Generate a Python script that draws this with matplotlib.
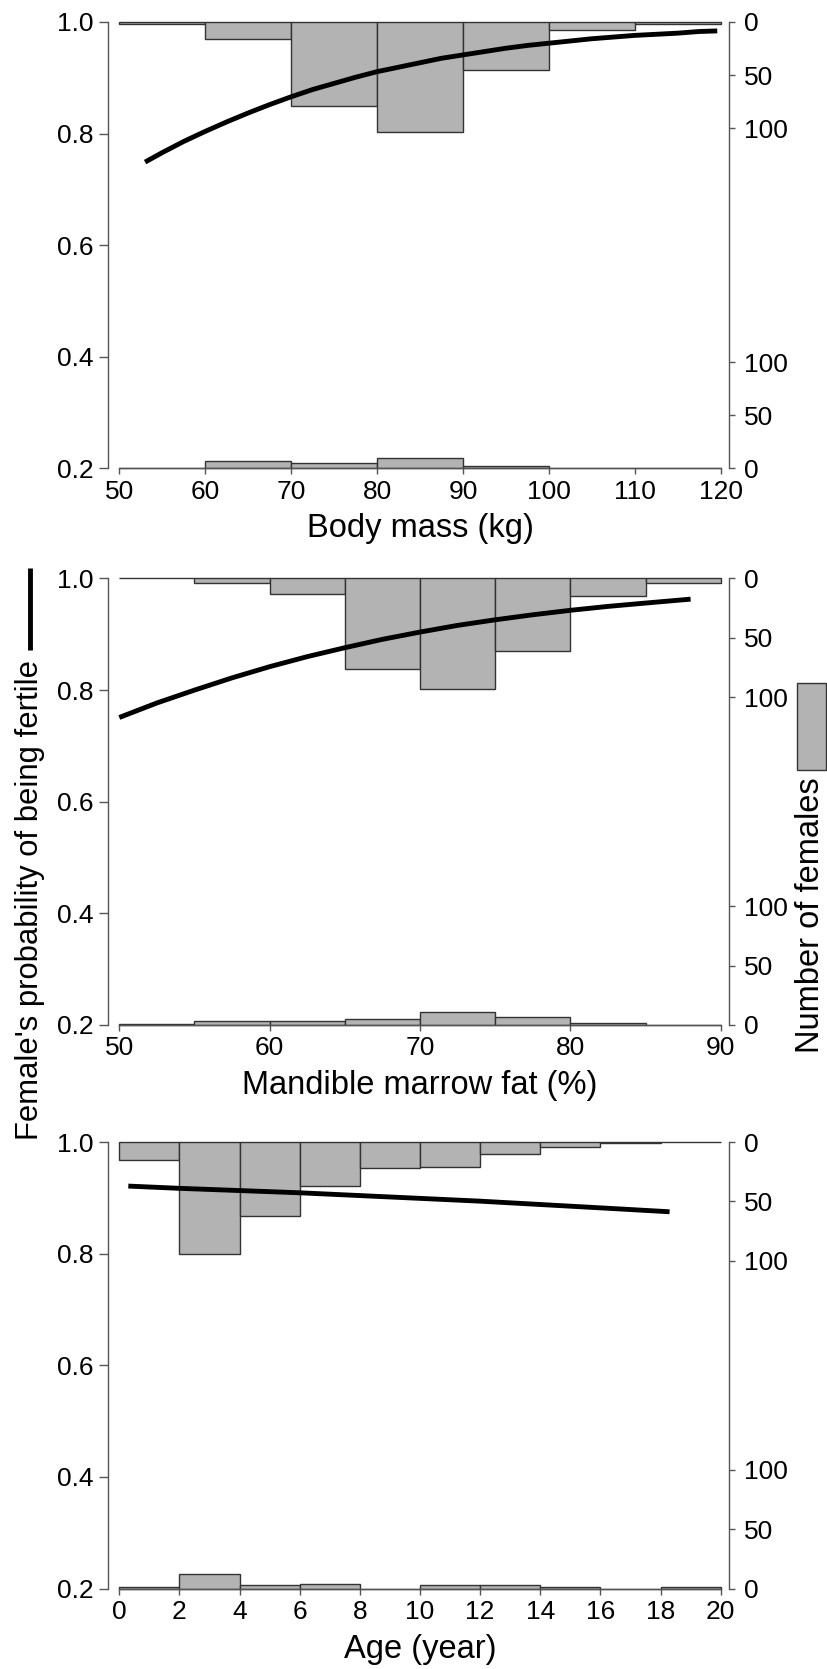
import matplotlib
matplotlib.use("Agg")
import matplotlib.pyplot as plt
import numpy as np
from matplotlib.lines import Line2D
from matplotlib.patches import Rectangle

plt.rcParams['font.family'] = ['Liberation Sans', 'DejaVu Sans']

# ---------------- data ----------------
# Panel 1: body mass
mass_edges = [50, 60, 70, 80, 90, 100, 110, 120]
mass_fertile = [2, 16, 79, 104, 45, 8, 2]
mass_nonfertile = [0, 7, 5, 10, 2, 0, 0]
mass_curve_x = [53, 55, 57.5, 60, 62.5, 65, 67.5, 70, 72.5, 75, 77.5, 80, 82.5, 85,
                87.5, 90, 92.5, 95, 97.5, 100, 102.5, 105, 107.5, 110, 112.5, 115,
                117.5, 119.6]
mass_curve_p = [0.749, 0.766, 0.786, 0.804, 0.821, 0.837, 0.852, 0.866, 0.879, 0.890,
                0.901, 0.911, 0.919, 0.927, 0.935, 0.941, 0.947, 0.953, 0.958, 0.962,
                0.966, 0.970, 0.973, 0.976, 0.978, 0.980, 0.983, 0.984]
mass_ticks = [50, 60, 70, 80, 90, 100, 110, 120]

# Panel 2: mandible marrow fat
fat_edges = [50, 55, 60, 65, 70, 75, 80, 85, 90]
fat_fertile = [0, 4, 13, 76, 93, 61, 15, 4]
fat_nonfertile = [1, 3, 3, 5, 11, 7, 2, 0]
fat_curve_x = [50, 52.5, 55, 57.5, 60, 62.5, 65, 67.5, 70, 72.5, 75, 77.5, 80, 82.5, 85, 88]
fat_curve_p = [0.751, 0.777, 0.800, 0.822, 0.842, 0.860, 0.876, 0.891, 0.904, 0.916,
               0.926, 0.935, 0.943, 0.950, 0.956, 0.963]
fat_ticks = [50, 60, 70, 80, 90]

# Panel 3: age
age_edges = [0, 2, 4, 6, 8, 10, 12, 14, 16, 18, 20]
age_fertile = [15, 94, 62, 37, 22, 21, 10, 4, 1, 0]
age_nonfertile = [1, 12, 3, 4, 0, 3, 3, 1, 0, 1]
age_curve_x = [0.3, 2, 4, 6, 8, 10, 12, 14, 16, 18.3]
age_curve_p = [0.921, 0.917, 0.913, 0.909, 0.904, 0.899, 0.894, 0.888, 0.882, 0.875]
age_ticks = [0, 2, 4, 6, 8, 10, 12, 14, 16, 18, 20]

prob_ticks = [0.2, 0.4, 0.6, 0.8, 1.0]
count_ticks = [0, 50, 100]

x_labels = ["Body mass (kg)", "Mandible marrow fat (%)", "Age (year)"]
ylabel_left = "Female's probability of being fertile"
ylabel_right = "Number of females"

# ---------------- layout ----------------
W, H = 828, 1669
fig = plt.figure(figsize=(W / 100, H / 100), dpi=100)

# probability units per female on each panel's histogram scale
K_PANELS = [0.0019, 0.00213, 0.00213]
FILL = '#b3b3b3'
EDGE = '#333333'
SPINE = '#555555'
TICK_FS = 19
LAB_FS = 23.5
YLAB_FS = 22.3

LEFT_SPINE, RIGHT_SPINE = 108.3, 729.3
DATA_X0, DATA_X1 = 119.3, 720.7
PANEL_TOPS = [22.0, 578.5, 1142.0]
PANEL_H = 446.5


def panel(top, K, edges, fert, nonfert, cx, cp, ticks, xlabel):
    bottom = top + PANEL_H
    ax = fig.add_axes([LEFT_SPINE / W, 1 - bottom / H,
                       (RIGHT_SPINE - LEFT_SPINE) / W, PANEL_H / H])
    xmin, xmax = edges[0], edges[-1]
    scale = (DATA_X1 - DATA_X0) / (xmax - xmin)
    ax.set_xlim(xmin - (DATA_X0 - LEFT_SPINE) / scale,
                xmax + (RIGHT_SPINE - DATA_X1) / scale)
    ax.set_ylim(0.2, 1.0)

    widths = np.diff(edges)
    lefts = np.array(edges[:-1])
    ax.bar(lefts, -np.array(fert) * K, width=widths, bottom=1.0, align='edge',
           color=FILL, edgecolor=EDGE, linewidth=1.0, clip_on=False, zorder=2)
    ax.bar(lefts, np.array(nonfert) * K, width=widths, bottom=0.2, align='edge',
           color=FILL, edgecolor=EDGE, linewidth=1.0, clip_on=False, zorder=2)
    ax.plot(cx, cp, color='black', lw=3.5, solid_capstyle='butt',
            solid_joinstyle='round', zorder=5)

    for s in ['top', 'right']:
        ax.spines[s].set_visible(False)
    ax.spines['left'].set_bounds(0.2, 1.0)
    ax.spines['bottom'].set_bounds(xmin, xmax)
    for s in ['left', 'bottom']:
        ax.spines[s].set_color(SPINE)
        ax.spines[s].set_linewidth(1.0)

    ax.set_yticks(prob_ticks)
    ax.set_yticklabels([f"{v:.1f}" for v in prob_ticks])
    ax.set_xticks(ticks)
    ax.set_xticklabels([str(t) for t in ticks])
    ax.tick_params(axis='y', length=6.5, width=1.0, color=SPINE, pad=4.3,
                   labelsize=TICK_FS)
    ax.tick_params(axis='x', length=4.6, width=1.0, color=SPINE, pad=3.5,
                   labelsize=TICK_FS)

    ax2 = ax.twinx()
    ax2.set_ylim(0.2, 1.0)
    for s in ['top', 'left', 'bottom']:
        ax2.spines[s].set_visible(False)
    ax2.spines['right'].set_bounds(0.2, 1.0)
    ax2.spines['right'].set_color(SPINE)
    ax2.spines['right'].set_linewidth(1.0)
    rpos = [1.0 - c * K for c in count_ticks] + [0.2 + c * K for c in count_ticks]
    rlab = [str(c) for c in count_ticks] + [str(c) for c in count_ticks]
    ax2.set_yticks(rpos)
    ax2.set_yticklabels(rlab)
    ax2.tick_params(axis='y', length=4.5, width=1.0, color=SPINE, pad=6,
                    labelsize=TICK_FS)

    fig.text(((DATA_X0 + DATA_X1) / 2) / W, 1 - (bottom + 69) / H, xlabel,
             ha='center', va='baseline', fontsize=LAB_FS)
    return ax


panel(PANEL_TOPS[0], K_PANELS[0], mass_edges, mass_fertile, mass_nonfertile,
      mass_curve_x, mass_curve_p, mass_ticks, x_labels[0])
panel(PANEL_TOPS[1], K_PANELS[1], fat_edges, fat_fertile, fat_nonfertile,
      fat_curve_x, fat_curve_p, fat_ticks, x_labels[1])
panel(PANEL_TOPS[2], K_PANELS[2], age_edges, age_fertile, age_nonfertile,
      age_curve_x, age_curve_p, age_ticks, x_labels[2])

# left y label with legend line
fig.text(30 / W, 1 - 900 / H, ylabel_left, rotation=90, ha='center', va='center',
         fontsize=YLAB_FS)
fig.add_artist(Line2D([30 / W, 30 / W], [1 - 650 / H, 1 - 568 / H], color='black',
                      lw=3.5, solid_capstyle='butt', transform=fig.transFigure))

# right y label with legend box
fig.text(811 / W, 1 - 915 / H, ylabel_right, rotation=90, ha='center', va='center',
         fontsize=LAB_FS)
fig.add_artist(Rectangle((797 / W, 1 - 770 / H), 29 / W, 87 / H,
                         facecolor=FILL, edgecolor=EDGE, lw=1.0,
                         transform=fig.transFigure))

fig.savefig("out.png", dpi=100)
